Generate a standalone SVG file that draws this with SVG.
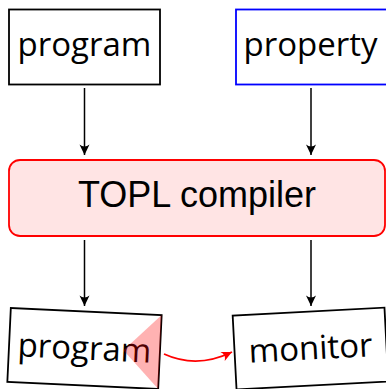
<svg xmlns="http://www.w3.org/2000/svg" width="386" height="389" viewBox="0 0 386 389">
  <style>
    .box { fill: #ffffff; stroke: #000000; stroke-width: 1.8; }
    .lbl { font-family: "Open Sans", "DejaVu Sans", sans-serif; font-size: 33px; fill: #000000; text-anchor: middle; }
    .edge { fill: none; stroke: #000000; stroke-width: 1.5; marker-end: url(#head); }
  </style>
  <defs>
    <marker id="head" viewBox="-11 -6 12 12" refX="0" refY="0" markerWidth="12" markerHeight="12" markerUnits="userSpaceOnUse" orient="auto">
      <path d="M0,0 L-10.5,-5 Q-6.5,0 -10.5,5 Z" fill="#000000"/>
    </marker>
    <marker id="headRed" viewBox="-11 -6 12 12" refX="0" refY="0" markerWidth="12" markerHeight="12" markerUnits="userSpaceOnUse" orient="auto">
      <path d="M0,0 L-10.5,-5 Q-6.5,0 -10.5,5 Z" fill="#ff0000"/>
    </marker>
  </defs>

  <g id="program-in">
    <rect class="box" x="9" y="9.5" width="151" height="75"/>
    <text class="lbl" x="84.5" y="56">program</text>
  </g>

  <g id="property">
    <rect x="236" y="9.5" width="152" height="75" fill="#ffffff" stroke="#0000ff" stroke-width="1.8"/>
    <text class="lbl" x="310.5" y="56">property</text>
  </g>

  <g id="compiler">
    <rect x="9" y="160" width="376" height="76" rx="11" ry="11" fill="#ffe4e4" stroke="#ff0000" stroke-width="1.8"/>
    <text x="197" y="207" font-family="Liberation Sans, Arial, sans-serif" font-size="37" text-anchor="middle" textLength="238" lengthAdjust="spacingAndGlyphs" fill="#000000">TOPL compiler</text>
  </g>

  <g id="program-out" transform="translate(84.5 348.5) rotate(2.7)">
    <rect class="box" x="-75.5" y="-37" width="151" height="74"/>
    <text class="lbl" x="0" y="11">program</text>
    <polygon points="75.5,-37 75.5,37 39,0" fill="#ff0000" fill-opacity="0.3"/>
  </g>

  <g id="monitor" transform="translate(310.5 348.5) rotate(-3)">
    <rect class="box" x="-76" y="-37" width="152" height="74"/>
    <text class="lbl" x="0" y="11">monitor</text>
  </g>

  <g id="connectors">
    <path class="edge" d="M84.5,88 L84.5,155"/>
    <path class="edge" d="M311,88 L311,155"/>
    <path class="edge" d="M84.5,240 L84.5,306"/>
    <path class="edge" d="M311,240 L311,306"/>
    <path d="M164,354 Q197,369 232,352" fill="none" stroke="#ff0000" stroke-width="1.8" marker-end="url(#headRed)"/>
  </g>
</svg>
